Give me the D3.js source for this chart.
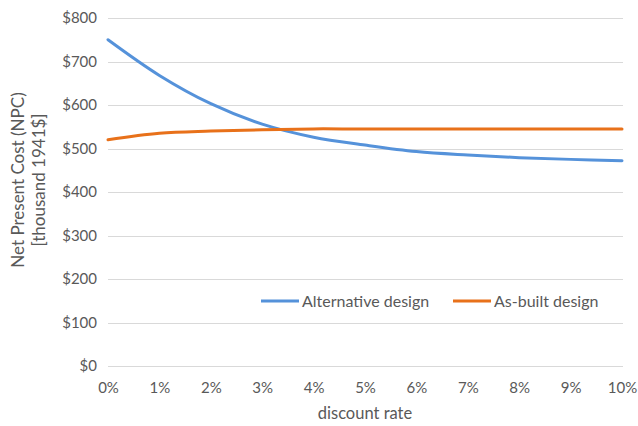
<!DOCTYPE html>
<html>
<head>
<meta charset="utf-8">
<script src="https://cdn.jsdelivr.net/npm/d3@7"></script>
<style>
  html, body { margin: 0; padding: 0; background: #fff; }
  svg text { font-family: Lato, "Noto Sans", sans-serif; fill: #595959; }
</style>
</head>
<body>
<svg id="chart" width="638" height="426"></svg>
<script>
// Discount rates (%) on the category axis
const rates = [0, 1, 2, 3, 4, 5, 6, 7, 8, 9, 10];
// Net present cost, thousand 1941$
const alternative = [750, 668, 603, 556, 526, 508, 493, 485, 479, 475, 472];
const asBuilt = [520, 535, 540, 543, 545, 545, 545, 545, 545, 545, 545];
const yTicks = [0, 100, 200, 300, 400, 500, 600, 700, 800];
const seriesNames = ["Alternative design", "As-built design"];
const seriesColors = ["#5592DA", "#E8711A"];

const svg = d3.select("#chart");
const x = d3.scaleLinear().domain([0, 10]).range([108, 622]);
const y = d3.scaleLinear().domain([0, 800]).range([366, 18]);
const fontStack = "Lato, 'Noto Sans', sans-serif";

// Horizontal gridlines
svg.append("g")
  .selectAll("line")
  .data(yTicks)
  .join("line")
  .attr("x1", 108).attr("x2", 623)
  .attr("y1", d => Math.round(y(d)) + 0.5)
  .attr("y2", d => Math.round(y(d)) + 0.5)
  .attr("stroke", "#D9D9D9")
  .attr("stroke-width", 1);

// Y axis labels
const yAxis = d3.axisLeft(y).tickValues(yTicks).tickSize(0).tickPadding(0)
  .tickFormat(d => "$" + d);
svg.append("g")
  .attr("transform", "translate(97,0)")
  .call(yAxis)
  .call(g => g.select(".domain").remove())
  .call(g => g.selectAll("text").attr("font-size", 15).attr("fill", "#595959")
    .style("font-family", fontStack));

// X axis labels
const xAxis = d3.axisBottom(x).tickValues(rates).tickSize(0).tickPadding(0)
  .tickFormat(d => d + "%");
svg.append("g")
  .attr("transform", "translate(0,382)")
  .call(xAxis)
  .call(g => g.select(".domain").remove())
  .call(g => g.selectAll("text").attr("font-size", 15).attr("fill", "#595959")
    .style("font-family", fontStack));

// Series lines
const line = d3.line()
  .x((d, i) => x(rates[i]))
  .y(d => y(d))
  .curve(d3.curveCatmullRom.alpha(0.5));

[alternative, asBuilt].forEach((vals, k) => {
  svg.append("path")
    .datum(vals)
    .attr("d", line)
    .attr("fill", "none")
    .attr("stroke", seriesColors[k])
    .attr("stroke-width", 3)
    .attr("stroke-linecap", "round");
});

// Legend
const legendX = [261, 453];
seriesNames.forEach((name, k) => {
  const g = svg.append("g").attr("transform", `translate(${legendX[k]},301)`);
  g.append("line")
    .attr("x1", 0).attr("x2", 38)
    .attr("stroke", seriesColors[k]).attr("stroke-width", 3);
  g.append("text")
    .attr("x", 41).attr("y", 6)
    .attr("font-size", 16)
    .text(name);
});

// Axis titles
svg.append("text")
  .attr("x", 365).attr("y", 419)
  .attr("text-anchor", "middle")
  .attr("font-size", 16.5)
  .text("discount rate");

const yTitle = svg.append("text")
  .attr("transform", "translate(0,180) rotate(-90)")
  .attr("text-anchor", "middle")
  .attr("font-size", 17);
yTitle.append("tspan").attr("x", 0).attr("y", 24).text("Net Present Cost (NPC)");
yTitle.append("tspan").attr("x", 0).attr("y", 45).text("[thousand 1941$]");
</script>
</body>
</html>
